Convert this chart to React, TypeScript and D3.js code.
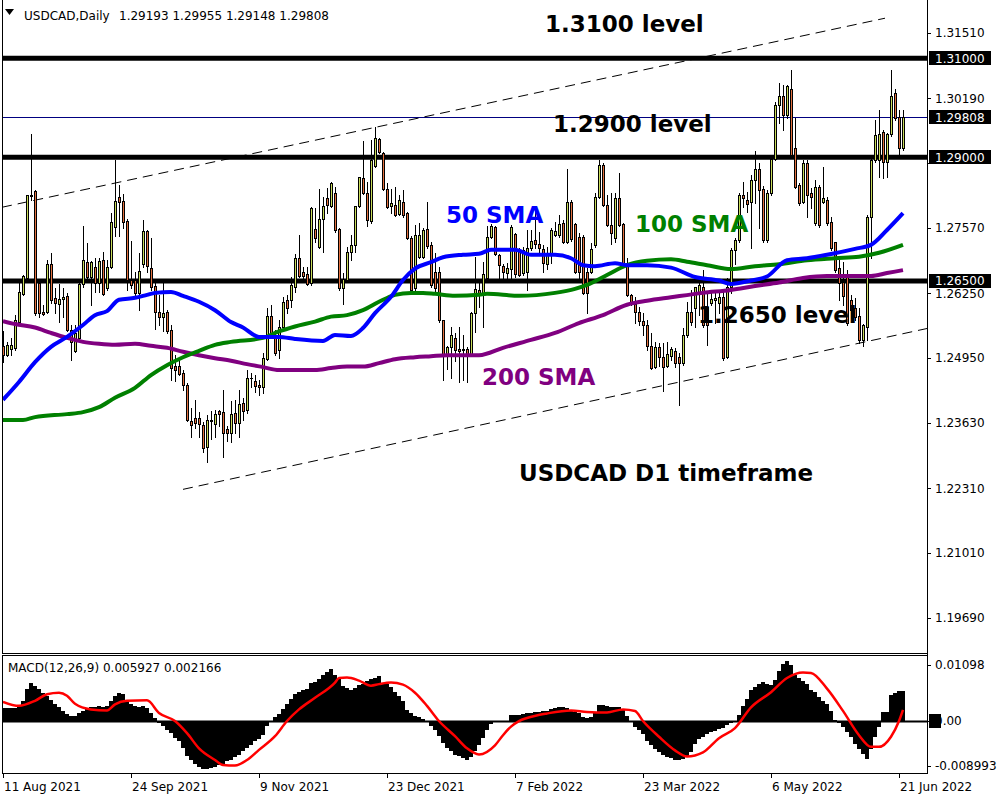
import React from "react";
import * as d3 from "d3";

// ---------- DATA ----------
const opens = [
  1.2519,1.2500,1.2512,1.2514,1.2568,1.2623,1.2657,1.2822,1.2832,1.2645,
  1.2587,1.2588,1.2684,1.2615,1.2603,1.2614,1.2620,1.2551,1.2509,1.2534,
  1.2643,1.2688,1.2659,1.2679,1.2645,1.2692,1.2635,1.2679,1.2760,1.2820,
  1.2812,1.2771,1.2652,1.2652,1.2625,1.2684,1.2751,1.2677,1.2639,1.2587,
  1.2578,1.2587,1.2550,1.2478,1.2478,1.2464,1.2440,1.2367,1.2374,1.2374,
  1.2359,1.2315,1.2367,1.2362,1.2387,1.2386,1.2350,1.2342,1.2383,1.2363,
  1.2403,1.2389,1.2453,1.2448,1.2440,1.2436,1.2492,1.2579,1.2535,1.2511,
  1.2557,1.2612,1.2612,1.2638,1.2697,1.2668,1.2664,1.2646,1.2755,1.2719,
  1.2775,1.2818,1.2802,1.2828,1.2755,1.2636,1.2652,1.2709,1.2723,1.2802,
  1.2858,1.2828,1.2771,1.2882,1.2937,1.2909,1.2836,1.2802,1.2804,1.2785,
  1.2810,1.2787,1.2737,1.2636,1.2699,1.2699,1.2755,1.2723,1.2668,1.2668,
  1.2571,1.2501,1.2517,1.2535,1.2513,1.2513,1.2513,1.2503,1.2585,1.2632,
  1.2626,1.2656,1.2739,1.2759,1.2703,1.2680,1.2666,1.2674,1.2745,1.2713,
  1.2666,1.2668,1.2717,1.2733,1.2725,1.2715,1.2684,1.2705,1.2743,1.2743,
  1.2767,1.2729,1.2810,1.2765,1.2739,1.2739,1.2668,1.2668,1.2723,1.2820,
  1.2884,1.2804,1.2763,1.2737,1.2818,1.2765,1.2686,1.2622,1.2604,1.2587,
  1.2569,1.2561,1.2519,1.2476,1.2517,1.2496,1.2478,1.2499,1.2509,1.2496,
  1.2484,1.2541,1.2587,1.2595,1.2628,1.2638,1.2597,1.2605,1.2612,1.2605,
  1.2618,1.2496,1.2638,1.2713,1.2733,1.2824,1.2814,1.2810,1.2854,1.2876,
  1.2836,1.2733,1.2828,1.2897,1.3006,1.3024,1.2985,1.3038,1.2919,1.2844,
  1.2810,1.2888,1.2828,1.2767,1.2840,1.2810,1.2814,1.2769,1.2729,1.2676,
  1.2648,1.2658,1.2612,1.2595,1.2579,1.2531,1.2557,1.2779,1.2895,1.2895,
  1.2951,1.2890,1.2947,1.3030,1.2981,1.29193,
];
const highs = [
  1.2548,1.2527,1.2534,1.2581,1.2645,1.2662,1.2824,1.2947,1.2834,1.2655,
  1.2602,1.2692,1.2706,1.2635,1.2643,1.2635,1.2625,1.2561,1.2561,1.2655,
  1.2761,1.2727,1.2690,1.2696,1.2696,1.2709,1.2692,1.2787,1.2895,1.2844,
  1.2825,1.2775,1.2730,1.2669,1.2706,1.2773,1.2753,1.2736,1.2645,1.2622,
  1.2645,1.2591,1.2561,1.2501,1.2494,1.2470,1.2443,1.2393,1.2410,1.2386,
  1.2366,1.2379,1.2387,1.2389,1.2389,1.2430,1.2356,1.2408,1.2410,1.2430,
  1.2414,1.2470,1.2464,1.2460,1.2450,1.2504,1.2595,1.2601,1.2551,1.2571,
  1.2618,1.2622,1.2658,1.2705,1.2743,1.2678,1.2678,1.2800,1.2798,1.2836,
  1.2820,1.2838,1.2850,1.2840,1.2757,1.2666,1.2719,1.2743,1.2802,1.2860,
  1.2933,1.2850,1.2935,1.2961,1.2939,1.2911,1.2848,1.2836,1.2840,1.2824,
  1.2834,1.2789,1.2741,1.2763,1.2767,1.2757,1.2810,1.2729,1.2707,1.2678,
  1.2571,1.2519,1.2557,1.2545,1.2557,1.2541,1.2517,1.2587,1.2699,1.2646,
  1.2688,1.2761,1.2765,1.2761,1.2705,1.2684,1.2686,1.2763,1.2747,1.2717,
  1.2719,1.2753,1.2753,1.2791,1.2749,1.2723,1.2719,1.2757,1.2769,1.2783,
  1.2773,1.2876,1.2814,1.2767,1.2747,1.2743,1.2676,1.2727,1.2828,1.2895,
  1.2889,1.2824,1.2828,1.2828,1.2868,1.2767,1.2696,1.2624,1.2618,1.2597,
  1.2585,1.2571,1.2545,1.2527,1.2525,1.2525,1.2527,1.2517,1.2515,1.2505,
  1.2555,1.2608,1.2632,1.2638,1.2652,1.2672,1.2626,1.2632,1.2632,1.2632,
  1.2628,1.2656,1.2717,1.2737,1.2828,1.2850,1.2830,1.2864,1.2913,1.2889,
  1.2842,1.2834,1.2901,1.3012,1.3050,1.3046,1.3046,1.3076,1.2979,1.2848,
  1.2895,1.2895,1.2838,1.2854,1.2844,1.2880,1.2820,1.2779,1.2729,1.2692,
  1.2688,1.2672,1.2622,1.2616,1.2595,1.2563,1.2783,1.2901,1.2975,1.2996,
  1.2955,1.2949,1.3076,1.3038,1.2995,1.29955,
];
const lows = [
  1.2487,1.2499,1.2500,1.2511,1.2561,1.2622,1.2655,1.2814,1.2581,1.2578,
  1.2581,1.2585,1.2605,1.2585,1.2568,1.2578,1.2548,1.2490,1.2507,1.2531,
  1.2638,1.2649,1.2601,1.2628,1.2628,1.2622,1.2632,1.2676,1.2740,1.2740,
  1.2757,1.2632,1.2635,1.2622,1.2591,1.2679,1.2669,1.2632,1.2554,1.2561,
  1.2548,1.2544,1.2450,1.2447,1.2460,1.2430,1.2367,1.2334,1.2353,1.2335,
  1.2304,1.2285,1.2331,1.2335,1.2356,1.2295,1.2327,1.2325,1.2343,1.2335,
  1.2369,1.2383,1.2436,1.2426,1.2420,1.2424,1.2490,1.2541,1.2500,1.2494,
  1.2555,1.2585,1.2598,1.2628,1.2658,1.2648,1.2642,1.2642,1.2729,1.2717,
  1.2709,1.2788,1.2800,1.2749,1.2632,1.2604,1.2648,1.2692,1.2709,1.2800,
  1.2826,1.2761,1.2767,1.2880,1.2909,1.2834,1.2798,1.2787,1.2781,1.2783,
  1.2779,1.2735,1.2630,1.2632,1.2697,1.2697,1.2717,1.2638,1.2628,1.2567,
  1.2450,1.2472,1.2454,1.2488,1.2446,1.2450,1.2446,1.2501,1.2547,1.2597,
  1.2557,1.2654,1.2737,1.2703,1.2656,1.2654,1.2654,1.2656,1.2658,1.2660,
  1.2662,1.2632,1.2713,1.2717,1.2707,1.2668,1.2674,1.2686,1.2741,1.2739,
  1.2727,1.2727,1.2731,1.2666,1.2656,1.2624,1.2585,1.2666,1.2719,1.2818,
  1.2802,1.2761,1.2725,1.2729,1.2761,1.2684,1.2620,1.2601,1.2565,1.2561,
  1.2541,1.2511,1.2472,1.2474,1.2478,1.2428,1.2476,1.2490,1.2476,1.2400,
  1.2480,1.2537,1.2561,1.2557,1.2581,1.2557,1.2521,1.2601,1.2565,1.2585,
  1.2490,1.2494,1.2626,1.2684,1.2729,1.2800,1.2790,1.2717,1.2808,1.2757,
  1.2729,1.2729,1.2824,1.2895,1.2969,1.2955,1.2979,1.2901,1.2838,1.2804,
  1.2808,1.2779,1.2798,1.2763,1.2759,1.2808,1.2763,1.2713,1.2668,1.2612,
  1.2602,1.2561,1.2575,1.2571,1.2525,1.2519,1.2531,1.2697,1.2890,1.2860,
  1.2858,1.2860,1.2943,1.2975,1.2905,1.29148,
];
const closes = [
  1.2500,1.2520,1.2520,1.2571,1.2628,1.2660,1.2824,1.2824,1.2585,1.2585,
  1.2583,1.2684,1.2612,1.2605,1.2614,1.2618,1.2550,1.2527,1.2544,1.2643,
  1.2692,1.2659,1.2688,1.2645,1.2690,1.2624,1.2679,1.2769,1.2812,1.2809,
  1.2770,1.2652,1.2642,1.2625,1.2670,1.2751,1.2681,1.2637,1.2587,1.2578,
  1.2585,1.2548,1.2474,1.2470,1.2462,1.2439,1.2369,1.2359,1.2364,1.2362,
  1.2313,1.2369,1.2369,1.2381,1.2381,1.2342,1.2342,1.2381,1.2363,1.2401,
  1.2387,1.2454,1.2455,1.2438,1.2436,1.2494,1.2579,1.2545,1.2504,1.2557,
  1.2608,1.2596,1.2642,1.2697,1.2660,1.2660,1.2644,1.2798,1.2737,1.2775,
  1.2802,1.2804,1.2848,1.2753,1.2636,1.2654,1.2709,1.2723,1.2802,1.2860,
  1.2828,1.2773,1.2894,1.2939,1.2911,1.2836,1.2800,1.2808,1.2784,1.2814,
  1.2784,1.2737,1.2632,1.2743,1.2743,1.2753,1.2721,1.2642,1.2636,1.2571,
  1.2501,1.2517,1.2541,1.2511,1.2509,1.2511,1.2503,1.2585,1.2634,1.2626,
  1.2664,1.2739,1.2761,1.2705,1.2683,1.2668,1.2676,1.2759,1.2664,1.2662,
  1.2713,1.2717,1.2731,1.2725,1.2717,1.2686,1.2705,1.2753,1.2751,1.2765,
  1.2729,1.2810,1.2735,1.2668,1.2668,1.2626,1.2626,1.2715,1.2820,1.2884,
  1.2804,1.2763,1.2747,1.2818,1.2763,1.2686,1.2622,1.2606,1.2587,1.2569,
  1.2561,1.2519,1.2474,1.2517,1.2496,1.2476,1.2503,1.2513,1.2484,1.2484,
  1.2541,1.2587,1.2567,1.2638,1.2642,1.2561,1.2561,1.2614,1.2616,1.2618,
  1.2494,1.2638,1.2713,1.2733,1.2824,1.2818,1.2806,1.2854,1.2876,1.2834,
  1.2733,1.2828,1.2897,1.3006,1.3024,1.2985,1.3044,1.2905,1.2840,1.2808,
  1.2888,1.2824,1.2820,1.2840,1.2763,1.2818,1.2767,1.2717,1.2672,1.2646,
  1.2620,1.2565,1.2591,1.2577,1.2531,1.2561,1.2779,1.2895,1.2945,1.2947,
  1.2890,1.2947,1.3024,1.2980,1.2919,1.29808,
];

// moving averages, read at sample bars: [bar index, price]
const sma50 = [
  [0,1.2410],[4,1.2446],[8,1.2486],[12,1.2517],[16,1.2537],[20,1.2561],[23,1.2581],[26,1.2589],
  [29,1.2612],[33,1.2616],[36,1.2622],[38,1.2626],[42,1.2628],[45,1.2620],[49,1.2608],[53,1.2591],
  [57,1.2567],[60,1.2556],[64,1.2537],[69,1.2537],[73,1.2533],[80,1.2529],[83,1.2541],[87,1.2539],
  [90,1.2555],[93,1.2585],[97,1.2618],[100,1.2652],[103,1.2675],[107,1.2688],[110,1.2698],[115,1.2703],
  [119,1.2705],[122,1.2713],[128,1.2713],[132,1.2703],[138,1.2703],[142,1.2696],[145,1.2682],[148,1.2680],
  [153,1.2686],[156,1.2682],[161,1.2682],[167,1.2677],[173,1.2658],[179,1.2651],[182,1.2644],[187,1.2651],
  [191,1.2659],[196,1.2692],[201,1.2696],[206,1.2703],[213,1.2715],[217,1.2723],[221,1.2753],[225,1.2787],
];
const sma100 = [
  [0,1.2369],[5,1.2369],[8,1.2375],[16,1.2381],[20,1.2385],[24,1.2395],[28,1.2414],[33,1.2434],
  [37,1.2460],[41,1.2480],[45,1.2496],[49,1.2509],[53,1.2521],[57,1.2527],[65,1.2535],[69,1.2548],
  [73,1.2558],[78,1.2568],[82,1.2578],[86,1.2581],[90,1.2591],[94,1.2608],[98,1.2622],[102,1.2626],
  [105,1.2626],[108,1.2624],[113,1.2620],[119,1.2622],[121,1.2624],[129,1.2620],[138,1.2626],[143,1.2634],
  [146,1.2642],[151,1.2662],[156,1.2682],[161,1.2691],[167,1.2694],[171,1.2689],[176,1.2682],[182,1.2674],
  [188,1.2680],[194,1.2684],[201,1.2692],[208,1.2696],[214,1.2699],[219,1.2707],[225,1.2723],
];
const sma200 = [
  [0,1.2569],[3,1.2563],[8,1.2556],[12,1.2545],[16,1.2535],[20,1.2527],[24,1.2523],[28,1.2521],
  [33,1.2523],[37,1.2519],[41,1.2515],[45,1.2507],[49,1.2500],[53,1.2494],[57,1.2489],[61,1.2482],
  [65,1.2476],[69,1.2470],[78,1.2470],[82,1.2474],[86,1.2477],[90,1.2477],[94,1.2484],[98,1.2492],
  [103,1.2496],[107,1.2498],[111,1.2500],[119,1.2500],[125,1.2515],[132,1.2531],[138,1.2545],[144,1.2565],
  [150,1.2581],[156,1.2602],[161,1.2610],[167,1.2617],[175,1.2626],[182,1.2632],[188,1.2640],[194,1.2647],
  [200,1.2656],[206,1.2660],[213,1.2660],[217,1.2660],[221,1.2666],[225,1.2672],
];

// MACD main (histogram), in units of 0.0001, one per bar
const macdMain = [
  25,24,24,25,29,39,62,74,69,62, 55,49,40,33,27,19,12,9,9,15,
  19,24,27,27,29,27,29,39,49,55, 52,39,32,29,27,29,24,15,5,-5,
  -11,-18,-25,-35,-41,-55,-71,-78,-85,-91, -96,-95,-93,-91,-88,-85,-81,-78,-73,-68,
  -61,-55,-48,-40,-36,-28,-11,-1,7,13, 22,32,42,52,57,60,62,75,77,82,
  91,95,101,91,85,69,64,60,65,71, 73,79,82,85,89,75,72,67,57,49,
  39,20,15,9,7,4,-3,-11,-18,-31, -45,-55,-61,-68,-71,-75,-78,-73,-61,-48,
  -34,-18,-7,-3,-3,-3,-1,11,11,11, 12,14,15,16,16,18,19,22,24,26,
  27,24,19,16,14,7,5,7,16,31, 31,29,26,27,26,20,9,-1,-12,-18,
  -27,-41,-49,-57,-63,-69,-73,-75,-78,-78, -76,-71,-63,-46,-37,-32,-27,-23,-20,-16,
  -14,-8,-5,-1,11,29,43,60,67,73, 77,73,70,80,97,111,118,109,90,84,
  79,73,61,56,46,39,33,18,2,-5, -12,-22,-32,-46,-56,-66,-76,-56,-32,-12,
  16,16,50,55,58,59,
];
// MACD signal line, read at sample bars: [bar index, value in 0.0001]
const macdSignal = [
  [0,37],[4,29],[8,39],[11,52],[14,55],[16,49],[18,33],[22,22],[26,20],[28,32],[31,39],[36,40],
  [39,15],[43,-1],[46,-25],[49,-55],[53,-78],[55,-88],[58,-89],[61,-78],[64,-58],[68,-31],[71,-1],
  [74,22],[78,45],[83,75],[84,84],[86,85],[89,79],[92,69],[94,72],[97,75],[100,71],[103,55],[106,29],
  [109,-1],[113,-31],[116,-55],[119,-67],[123,-49],[125,-29],[127,-12],[129,-1],[131,5],[136,14],
  [142,20],[146,17],[151,16],[155,22],[158,19],[160,-1],[164,-32],[168,-59],[171,-71],[175,-63],
  [179,-35],[183,-15],[187,26],[192,56],[196,84],[200,95],[202,94],[206,63],[210,19],[214,-29],
  [217,-52],[219,-52],[222,-32],[224,-1],[225,21],
];

const priceTicks = [1.3151, 1.3019, 1.2888, 1.2757, 1.2625, 1.2495, 1.2363, 1.2231, 1.2101, 1.1969];
const priceTickLabels = ["1.31510","1.30190","","1.27570","1.26250","1.24950","1.23630","1.22310","1.21010","1.19690"];
const levelValues = [1.31, 1.29, 1.265];
const levelLabels = ["1.31000", "1.29000", "1.26500"];
const bidValue = 1.29808;
const bidLabel = "1.29808";
const dateTickIdx = [0, 32, 64, 96, 128, 160, 192, 224];
const dateTickLabels = ["11 Aug 2021","24 Sep 2021","9 Nov 2021","23 Dec 2021","7 Feb 2022","23 Mar 2022","6 May 2022","21 Jun 2022"];
const macdTicks = [0.01098, 0, -0.008993];
const macdTickLabels = ["0.01098", "0.00", "-0.008993"];
const upperChannel = [[-0.25, 1.2799], [220.5, 1.3181]];
const lowerChannel = [[45, 1.2229], [231, 1.2554]];

const BULL = "#c9dc5a";
const BEAR = "#e2703e";
const FONT = "DejaVu Sans, Verdana, sans-serif";

export default function App() {
  const L = 2, R = 927, MB = 653, IT = 655, IB = 773;
  const x = d3.scaleLinear().domain([0, 224]).range([3, 899]);
  const y = d3.scaleLinear().domain([1.265, 1.31]).range([281, 58.3]);
  const ym = d3.scaleLinear().domain([-0.008993, 0.01098]).range([766, 665]);

  const smaLine = d3.line<number[]>().x(d => x(d[0])).y(d => y(d[1])).curve(d3.curveMonotoneX);
  const sigLine = d3.line<number[]>().x(d => x(d[0])).y(d => ym(d[1] / 10000)).curve(d3.curveMonotoneX);

  const candles = opens.map((o, i) => {
    const c = closes[i];
    const cx = Math.round(x(i));
    const top = Math.round(y(Math.max(o, c)));
    const bot = Math.round(y(Math.min(o, c)));
    const hTop = Math.round(y(highs[i]));
    const lBot = Math.round(y(lows[i]));
    const h = Math.max(1, bot - top + 1);
    return (
      <g key={i}>
        <rect x={cx} y={hTop} width={1} height={lBot - hTop + 1} fill="#000" />
        <rect x={cx - 1} y={top} width={3} height={h} fill="#000" />
        {h > 2 && <rect x={cx} y={top + 1} width={1} height={h - 2} fill={c >= o ? BULL : BEAR} />}
      </g>
    );
  });

  const z0 = ym(0);
  const hist = macdMain.map((v, i) => {
    const cx = Math.round(x(i));
    const yv = ym(v / 10000);
    return <rect key={i} x={cx - 2} y={Math.min(yv, z0)} width={4} height={Math.abs(yv - z0)} fill="#000" />;
  });

  const bigText = { fontFamily: FONT, fontWeight: 700, fontSize: 23 } as const;

  return (
    <div style={{ position: "fixed", left: 0, top: 0, width: 1000, height: 800, background: "#fff" }}>
      <svg width={1000} height={800} style={{ display: "block" }}>
        <defs>
          <clipPath id="mainClip"><rect x={L + 1} y={0} width={R - L - 1} height={MB} /></clipPath>
          <clipPath id="macdClip"><rect x={L + 1} y={IT + 1} width={R - L - 1} height={IB - IT - 1} /></clipPath>
        </defs>
        <rect x={0} y={0} width={1000} height={800} fill="#fff" />

        <g clipPath="url(#mainClip)">
          {/* bid line */}
          <line x1={L} x2={R} y1={Math.round(y(bidValue)) + 0.5} y2={Math.round(y(bidValue)) + 0.5} stroke="#000080" strokeWidth={1} />
          {/* channels */}
          <line x1={x(upperChannel[0][0])} y1={y(upperChannel[0][1])} x2={x(upperChannel[1][0])} y2={y(upperChannel[1][1])}
            stroke="#000" strokeWidth={1} strokeDasharray="10,6" />
          <line x1={x(lowerChannel[0][0])} y1={y(lowerChannel[0][1])} x2={x(lowerChannel[1][0])} y2={y(lowerChannel[1][1])}
            stroke="#000" strokeWidth={1} strokeDasharray="10,6" />
          {/* level lines */}
          {levelValues.map((v, i) => (
            <line key={i} x1={L} x2={R} y1={y(v)} y2={y(v)} stroke="#000" strokeWidth={5} />
          ))}
          <g shapeRendering="crispEdges">{candles}</g>
          <path d={smaLine(sma200 as any) || ""} fill="none" stroke="#800080" strokeWidth={4} strokeLinejoin="round" />
          <path d={smaLine(sma100 as any) || ""} fill="none" stroke="#008000" strokeWidth={4} strokeLinejoin="round" />
          <path d={smaLine(sma50 as any) || ""} fill="none" stroke="#0000ff" strokeWidth={4} strokeLinejoin="round" />

          <text x={545} y={32} {...bigText} fill="#000">1.3100 level</text>
          <text x={553} y={132} {...bigText} fill="#000">1.2900 level</text>
          <text x={698} y={323} {...bigText} fill="#000">1.2650 level</text>
          <text x={519} y={481} {...bigText} fill="#000">USDCAD D1 timeframe</text>
          <text x={446} y={223} {...bigText} fill="#0000ff">50 SMA</text>
          <text x={635} y={232} {...bigText} fill="#008000">100 SMA</text>
          <text x={482} y={385} {...bigText} fill="#800080">200 SMA</text>
        </g>

        {/* header */}
        <path d="M5,9 L14,9 L9.5,15 Z" fill="#000" />
        <text x={24} y={20} fontFamily={FONT} fontSize={12} fill="#000">USDCAD,Daily</text>
        <text x={119} y={20} fontFamily={FONT} fontSize={12} fill="#000">1.29193 1.29955 1.29148 1.29808</text>

        {/* MACD */}
        <g clipPath="url(#macdClip)">
          <g shapeRendering="crispEdges">{hist}</g>
          <line x1={L} x2={R} y1={Math.round(z0) + 0.5} y2={Math.round(z0) + 0.5} stroke="#000" strokeWidth={2} />
          <path d={sigLine(macdSignal as any) || ""} fill="none" stroke="#ff0000" strokeWidth={2.5} />
        </g>
        <text x={8} y={672} fontFamily={FONT} fontSize={12} fill="#000">MACD(12,26,9) 0.005927 0.002166</text>

        {/* frames */}
        <g shapeRendering="crispEdges" stroke="#000" strokeWidth={1} fill="none">
          <line x1={L + 0.5} x2={L + 0.5} y1={0} y2={MB + 0.5} />
          <line x1={L} x2={R + 0.5} y1={MB + 0.5} y2={MB + 0.5} />
          <line x1={L + 0.5} x2={L + 0.5} y1={IT + 0.5} y2={IB + 0.5} />
          <line x1={L} x2={R + 0.5} y1={IT + 0.5} y2={IT + 0.5} />
          <line x1={L} x2={R + 0.5} y1={IB + 0.5} y2={IB + 0.5} />
          <line x1={R + 0.5} x2={R + 0.5} y1={0} y2={IB + 0.5} />
        </g>

        {/* price axis */}
        {priceTicks.map((v, i) => (
          <g key={i}>
            <line x1={R} x2={R + 4} y1={Math.round(y(v)) + 0.5} y2={Math.round(y(v)) + 0.5} stroke="#000" shapeRendering="crispEdges" />
            {priceTickLabels[i] && (
              <text x={935} y={y(v)} dy="0.36em" fontFamily={FONT} fontSize={12} fill="#000">{priceTickLabels[i]}</text>
            )}
          </g>
        ))}
        {levelValues.map((v, i) => (
          <g key={i}>
            <rect x={929} y={Math.round(y(v)) - 7} width={62} height={14} fill="#000" />
            <text x={935} y={y(v)} dy="0.36em" fontFamily={FONT} fontSize={12} fill="#fff">{levelLabels[i]}</text>
          </g>
        ))}
        <rect x={929} y={Math.round(y(bidValue)) - 7} width={62} height={14} fill="#000" />
        <text x={935} y={y(bidValue)} dy="0.36em" fontFamily={FONT} fontSize={12} fill="#fff">{bidLabel}</text>

        {/* MACD axis */}
        {macdTicks.map((v, i) => (
          <g key={i}>
            <line x1={R} x2={R + 4} y1={Math.round(ym(v)) + 0.5} y2={Math.round(ym(v)) + 0.5} stroke="#000" shapeRendering="crispEdges" />
            {v === 0 && <rect x={929} y={Math.round(ym(v)) - 7} width={12} height={14} fill="#000" />}
            <text x={935} y={ym(v)} dy="0.36em" fontFamily={FONT} fontSize={12} fill="#000">{macdTickLabels[i]}</text>
          </g>
        ))}

        {/* time axis */}
        {dateTickIdx.map((d, i) => (
          <g key={i}>
            <line x1={Math.round(x(d)) + 0.5} x2={Math.round(x(d)) + 0.5} y1={IB} y2={IB + 5} stroke="#000" shapeRendering="crispEdges" />
            <text x={Math.round(x(d)) + 1} y={791} fontFamily={FONT} fontSize={12} fill="#000">{dateTickLabels[i]}</text>
          </g>
        ))}
      </svg>
    </div>
  );
}
